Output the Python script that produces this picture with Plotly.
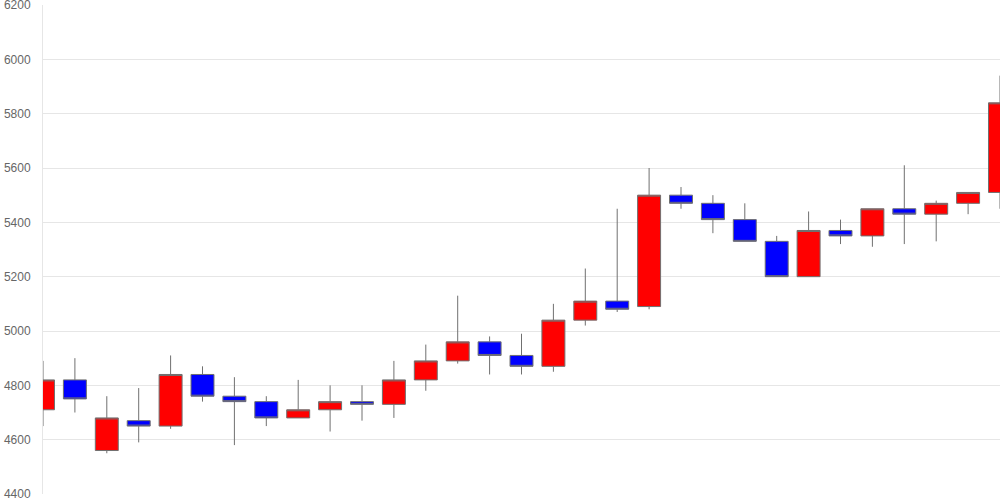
import plotly.graph_objects as go

days = list(range(31))
opens = [4710, 4820, 4560, 4670, 4650, 4840, 4760, 4740, 4680, 4710, 4740, 4730, 4820, 4890, 4960, 4910,
         4870, 5040, 5110, 5090, 5500, 5470, 5410, 5330, 5200, 5370, 5350, 5450, 5430, 5470, 5510]
highs = [4890, 4900, 4760, 4790, 4910, 4870, 4830, 4760, 4820, 4800, 4800, 4890, 4950, 5130, 4980, 4990,
         5100, 5230, 5450, 5600, 5530, 5500, 5470, 5350, 5440, 5410, 5450, 5610, 5480, 5510, 5940]
lows = [4650, 4700, 4550, 4590, 4640, 4740, 4580, 4650, 4680, 4630, 4670, 4680, 4780, 4880, 4840, 4840,
        4850, 5020, 5070, 5080, 5450, 5360, 5330, 5200, 5200, 5320, 5310, 5320, 5330, 5430, 5450]
closes = [4820, 4750, 4680, 4650, 4840, 4760, 4740, 4680, 4710, 4740, 4730, 4820, 4890, 4960, 4910, 4870,
          5040, 5110, 5080, 5500, 5470, 5410, 5330, 5200, 5370, 5350, 5450, 5430, 5470, 5510, 5840]

y_ticks = [4400, 4600, 4800, 5000, 5200, 5400, 5600, 5800, 6000, 6200]

fig = go.Figure(go.Candlestick(
    x=days, open=opens, high=highs, low=lows, close=closes,
    increasing=dict(fillcolor="#ff0000", line=dict(color="#707070", width=1)),
    decreasing=dict(fillcolor="#0000ff", line=dict(color="#707070", width=1)),
    whiskerwidth=0,
    hoverinfo="skip",
))

fig.update_layout(
    width=1000, height=500,
    margin=dict(l=43, r=0, t=5, b=6),
    paper_bgcolor="white", plot_bgcolor="white",
    showlegend=False,
    boxgap=0.28, boxgroupgap=0,
    font=dict(family="Liberation Sans, Arial, sans-serif", size=12, color="#666666"),
)
fig.update_xaxes(range=[0, 30], showgrid=False, showticklabels=False, zeroline=False,
                 rangeslider_visible=False, showline=False, automargin=False)
fig.update_yaxes(range=[4400, 6200], tickvals=y_ticks, ticktext=[str(v) for v in y_ticks],
                 showgrid=True, gridcolor="#e6e6e6", gridwidth=1, zeroline=False,
                 showline=True, linecolor="#e6e6e6", linewidth=1, ticks="",
                 ticklabelstandoff=9, automargin=False, ticklabeloverflow="allow")

fig.write_html("out.html", config={"displayModeBar": False},
               post_script="document.body.style.margin='0';")
